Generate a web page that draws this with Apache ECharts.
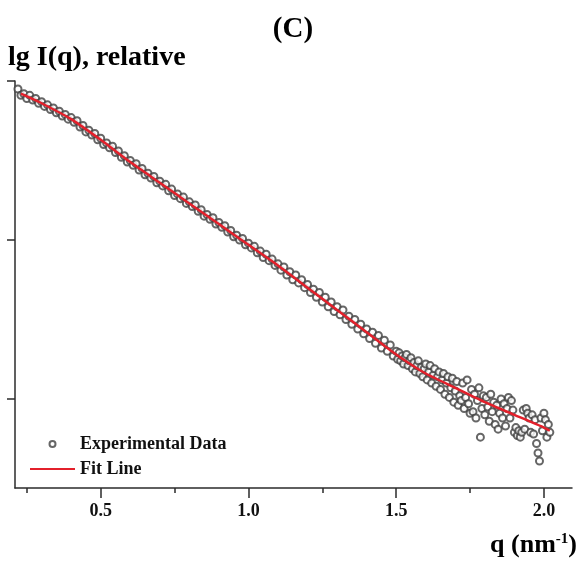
<!DOCTYPE html>
<html>
<head>
<meta charset="utf-8">
<script src="https://cdn.jsdelivr.net/npm/echarts@6/dist/echarts.min.js"></script>
<style>
  html, body { margin: 0; padding: 0; background: #fff; }
  #chart { width: 586px; height: 562px; }
</style>
</head>
<body>
<div id="chart"></div>
<script>
// measured q values (nm^-1)
const qData = [
  0.22, 0.23, 0.24, 0.25, 0.26, 0.27, 0.28, 0.29, 0.30,
  0.31, 0.32, 0.33, 0.34, 0.35, 0.36, 0.37, 0.38, 0.39, 0.40,
  0.41, 0.42, 0.43, 0.44, 0.45, 0.46, 0.47, 0.48, 0.49, 0.50,
  0.51, 0.52, 0.53, 0.54, 0.55, 0.56, 0.57, 0.58, 0.59, 0.60,
  0.61, 0.62, 0.63, 0.64, 0.65, 0.66, 0.67, 0.68, 0.69, 0.70,
  0.71, 0.72, 0.73, 0.74, 0.75, 0.76, 0.77, 0.78, 0.79, 0.80,
  0.81, 0.82, 0.83, 0.84, 0.85, 0.86, 0.87, 0.88, 0.89, 0.90,
  0.91, 0.92, 0.93, 0.94, 0.95, 0.96, 0.97, 0.98, 0.99, 1.00,
  1.01, 1.02, 1.03, 1.04, 1.05, 1.06, 1.07, 1.08, 1.09, 1.10,
  1.11, 1.12, 1.13, 1.14, 1.15, 1.16, 1.17, 1.18, 1.19, 1.20,
  1.21, 1.22, 1.23, 1.24, 1.25, 1.26, 1.27, 1.28, 1.29, 1.30,
  1.31, 1.32, 1.33, 1.34, 1.35, 1.36, 1.37, 1.38, 1.39, 1.40,
  1.41, 1.42, 1.43, 1.44, 1.45, 1.46, 1.47, 1.48, 1.49,
  1.500, 1.505, 1.510, 1.515, 1.520, 1.525, 1.530, 1.535, 1.540, 1.545,
  1.550, 1.555, 1.560, 1.565, 1.570, 1.575, 1.580, 1.585, 1.590, 1.595,
  1.600, 1.605, 1.610, 1.615, 1.620, 1.625, 1.630, 1.635, 1.640, 1.645,
  1.650, 1.655, 1.660, 1.665, 1.670, 1.675, 1.680, 1.685, 1.690, 1.695,
  1.700, 1.705, 1.710, 1.715, 1.720, 1.725, 1.730, 1.735, 1.740, 1.745,
  1.750, 1.755, 1.760, 1.765, 1.770, 1.775, 1.780, 1.785, 1.790, 1.795,
  1.800, 1.805, 1.810, 1.815, 1.820, 1.825, 1.830, 1.835, 1.840, 1.845,
  1.850, 1.855, 1.860, 1.865, 1.870, 1.875, 1.880, 1.885, 1.890, 1.895,
  1.900, 1.905, 1.910, 1.915, 1.920, 1.925, 1.930, 1.935, 1.940, 1.945,
  1.950, 1.955, 1.960, 1.965, 1.970, 1.975, 1.980, 1.985, 1.990, 1.995,
  2.000, 2.005, 2.010, 2.015, 2.020
];

// lg I(q), relative (experimental)
const lgI = [
  0.95, 0.91, 0.92, 0.89, 0.91, 0.88, 0.89, 0.86, 0.87,
  0.84, 0.85, 0.82, 0.83, 0.80, 0.81, 0.78, 0.79, 0.76, 0.77,
  0.74, 0.75, 0.71, 0.72, 0.68, 0.69, 0.66, 0.67, 0.63, 0.64,
  0.60, 0.61, 0.58, 0.59, 0.55, 0.56, 0.52, 0.53, 0.49, 0.50,
  0.47, 0.48, 0.44, 0.45, 0.41, 0.42, 0.39, 0.40, 0.36, 0.37,
  0.34, 0.35, 0.31, 0.32, 0.28, 0.29, 0.26, 0.27, 0.23, 0.24,
  0.21, 0.22, 0.18, 0.19, 0.15, 0.16, 0.13, 0.14, 0.10, 0.11,
  0.08, 0.09, 0.05, 0.06, 0.02, 0.03, 0.00, 0.01, -0.03, -0.02,
  -0.05, -0.04, -0.08, -0.07, -0.11, -0.09, -0.13, -0.12, -0.16, -0.15,
  -0.19, -0.17, -0.22, -0.20, -0.25, -0.22, -0.27, -0.25, -0.30, -0.28,
  -0.33, -0.31, -0.36, -0.33, -0.39, -0.36, -0.42, -0.39, -0.45, -0.42,
  -0.47, -0.44, -0.50, -0.48, -0.53, -0.50, -0.56, -0.53, -0.59, -0.56,
  -0.62, -0.58, -0.65, -0.60, -0.68, -0.63, -0.70, -0.66, -0.73,
  -0.70, -0.75, -0.71, -0.76, -0.73, -0.78, -0.74, -0.72, -0.79, -0.76,
  -0.74, -0.81, -0.77, -0.83, -0.79, -0.76, -0.84, -0.80, -0.86, -0.81,
  -0.78, -0.88, -0.83, -0.79, -0.90, -0.85, -0.81, -0.92, -0.86, -0.83,
  -0.94, -0.88, -0.84, -0.97, -0.90, -0.86, -0.99, -0.93, -0.87, -1.02,
  -0.95, -0.89, -1.04, -0.98, -1.01, -0.90, -1.06, -0.99, -0.88, -1.03,
  -1.09, -0.94, -1.08, -0.97, -1.12, -1.01, -0.93, -1.24, -1.06, -0.98,
  -1.10, -0.99, -1.05, -1.14, -0.97, -1.08, -1.02, -1.16, -1.04, -1.19,
  -1.09, -1.00, -1.12, -1.03, -1.17, -1.06, -0.99, -1.12, -1.01, -1.07,
  -1.21, -1.18, -1.23, -1.20, -1.24, -1.21, -1.07, -1.19, -1.06, -1.09,
  -1.12, -1.21, -1.10, -1.22, -1.13, -1.28, -1.34, -1.39, -1.12, -1.20,
  -1.09, -1.13, -1.24, -1.16, -1.21
];

// fitted curve
const fitQ = [0.23, 0.30, 0.40, 0.50, 0.60, 0.70, 0.80, 0.90, 1.00, 1.10,
              1.20, 1.30, 1.40, 1.50, 1.60, 1.70, 1.80, 1.90, 2.00, 2.02];
const fitI = [0.92, 0.86, 0.76, 0.63, 0.49, 0.36, 0.23, 0.10, -0.03, -0.16,
              -0.30, -0.44, -0.58, -0.72, -0.84, -0.93, -1.02, -1.10, -1.18, -1.20];

const xMajorTicks = [0.5, 1.0, 1.5, 2.0];
const xMinorTicks = [0.25, 0.75, 1.25, 1.75];
const yTicks = [-1, 0, 1];

const serif = "'Liberation Serif', 'DejaVu Serif', serif";
const axisColor = '#2b2b2b';
const pointColor = '#404040';
const fitColor = '#e3202b';

const chart = echarts.init(document.getElementById('chart'));

const gridBox = { left: 15, right: 14, top: 81, bottom: 74 };
const xRange = { min: 0.21, max: 2.095 };

chart.setOption({
  animation: false,
  backgroundColor: '#fff',
  title: [
    {
      text: '(C)', left: 'center', top: 10,
      textStyle: { fontFamily: serif, fontWeight: 'bold', fontSize: 29, color: '#000' }
    },
    {
      text: 'lg I(q), relative', left: 3, top: 39,
      textStyle: { fontFamily: serif, fontWeight: 'bold', fontSize: 28, color: '#000' }
    },
    {
      text: 'q (nm{sup|-1})', right: 4, top: 527,
      textStyle: {
        fontFamily: serif, fontWeight: 'bold', fontSize: 26, color: '#000',
        rich: {
          sup: { fontFamily: serif, fontWeight: 'bold', fontSize: 15, verticalAlign: 'top', padding: [0, 0, 12, 0], color: '#000' }
        }
      }
    }
  ],
  legend: {
    orient: 'vertical',
    left: 24, top: 430,
    itemWidth: 45, itemHeight: 6,
    itemGap: 7,
    textStyle: { fontFamily: serif, fontWeight: 'bold', fontSize: 18, color: '#111' },
    data: [
      { name: 'Experimental Data', itemStyle: { borderWidth: 1 } },
      { name: 'Fit Line', itemStyle: { opacity: 0 } }
    ]
  },
  grid: [
    Object.assign({}, gridBox),
    Object.assign({}, gridBox)
  ],
  xAxis: [
    {
      type: 'value', gridIndex: 0, min: xRange.min, max: xRange.max,
      axisLine: { onZero: false, lineStyle: { color: axisColor, width: 1.5 } },
      axisTick: { customValues: xMajorTicks, length: 10, lineStyle: { color: axisColor, width: 1.5 } },
      axisLabel: {
        customValues: xMajorTicks, margin: 14,
        formatter: v => v.toFixed(1),
        fontFamily: serif, fontWeight: 'bold', fontSize: 18, color: '#111'
      },
      splitLine: { show: false }
    },
    {
      type: 'value', gridIndex: 1, min: xRange.min, max: xRange.max, position: 'bottom',
      axisLine: { show: false, onZero: false },
      axisTick: { customValues: xMinorTicks, length: 5, lineStyle: { color: axisColor, width: 1.5 } },
      axisLabel: { show: false },
      splitLine: { show: false }
    }
  ],
  yAxis: [
    {
      type: 'value', gridIndex: 0, min: -1.56, max: 1,
      axisLine: { show: true, onZero: false, lineStyle: { color: axisColor, width: 1.5 } },
      axisTick: { show: true, customValues: yTicks, length: 8, lineStyle: { color: axisColor, width: 1.5 } },
      axisLabel: { show: false },
      splitLine: { show: false }
    },
    {
      type: 'value', gridIndex: 1, min: -1.56, max: 1, show: false
    }
  ],
  series: [
    {
      name: 'Experimental Data',
      type: 'scatter',
      symbol: 'emptyCircle',
      symbolSize: 7,
      itemStyle: { color: pointColor, borderWidth: 1.1 },
      data: qData.map((q, i) => [q, lgI[i]]),
      z: 2
    },
    {
      name: 'Fit Line',
      type: 'line',
      smooth: 0.2,
      symbol: 'none',
      lineStyle: { color: fitColor, width: 2.5 },
      itemStyle: { color: fitColor },
      data: fitQ.map((q, i) => [q, fitI[i]]),
      z: 3
    }
  ]
});
</script>
</body>
</html>
